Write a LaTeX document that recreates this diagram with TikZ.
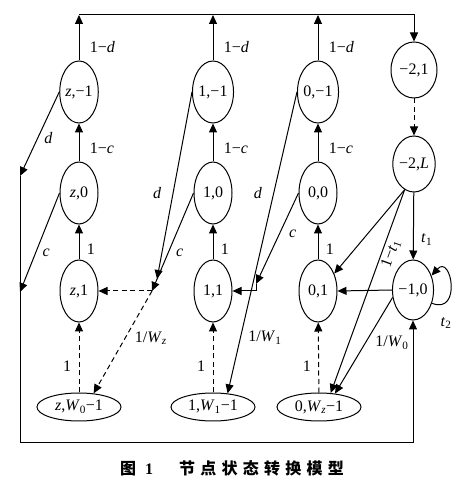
\documentclass[tikz,border=0pt]{standalone}
\usepackage{fontspec}
\setmainfont{Liberation Serif}
\newfontfamily\cjk{Noto Sans CJK SC}
\usetikzlibrary{arrows.meta,shapes.geometric}
\tikzset{>={Triangle[length=9pt,width=8pt]}}
\tikzset{%
    stat/.style={ellipse,draw,inner sep=0pt,%
        minimum width=38pt,minimum height=62pt%
    },%
    wstat/.style={stat,minimum width=84pt,minimum height=28pt},%
    dsh/.style={dash pattern=on 5pt off 3.5pt}%
}
\newcommand{\Wsub}[1]{\textit{W}\textsubscript{#1}}

\begin{document}
\begin{tikzpicture}[x=1pt,y=1pt,line width=1pt,font=\fontsize{16}{18}\selectfont]
    \useasboundingbox (0,0) rectangle (458,485);
    % states
    \node[stat] (zm) at (79,393) {\textit{z},−1};
    \node[stat] (z0) at (79,292) {\textit{z},0};
    \node[stat] (z1) at (79,194) {\textit{z},1};
    \node[wstat] (zw) at (79,78) {\textit{z},\Wsub{0}−1};
    \node[stat] (om) at (213,393) {1,−1};
    \node[stat] (o0) at (213,292) {1,0};
    \node[stat] (o1) at (213,194) {1,1};
    \node[wstat] (ow) at (213,78) {1,\Wsub{1}−1};
    \node[stat] (nm) at (318,393) {0,−1};
    \node[stat] (n0) at (318,292) {0,0};
    \node[stat] (n1) at (318,194) {0,1};
    \node[wstat] (nw) at (319,78) {0,\Wsub{\textit{z}}−1};
    \node[stat,minimum width=46pt,minimum height=56pt] (a) at (414,415) {−2,1};
    \node[stat,minimum height=56pt] (b) at (414,321) {−2,\textit{L}};
    \node[stat,minimum height=60pt] (c) at (413,195) {−1,0};
    % frame lines
    \coordinate (tz) at (79,470);
    \coordinate (to) at (213,470);
    \coordinate (tn) at (318,470);
    \coordinate (tr) at (414,470);
    \coordinate (lt) at (20,309);
    \coordinate (lc) at (20,193);
    \coordinate (lb) at (20,42);
    \coordinate (rb) at (413,42);
    \coordinate (j1) at (152,194);
    \coordinate (j1d) at (157,206);
    \coordinate (j2) at (256,201);
    \draw[->] (tz) -- (tr) -- (a);
    \draw[->] (lt) -- (lb) -- (rb) -- (c);
    % column z
    \draw[->] (zm) -- (tz) node[pos=.3,right=7pt] {1−\textit{d}};
    \draw[->] (z0) -- (zm) node[pos=.36,right=7pt] {1−\textit{c}};
    \draw[->] (z1) -- (z0) node[pos=.3,right=4pt] {1};
    \draw[->,dsh] (zw) -- (z1) node[pos=.37,left=4pt] {1};
    \draw[->] (zm.west) -- (lt) node[pos=.55,right=3pt] {\textit{d}};
    \draw[->] (z0.west) -- (lc) node[pos=.6,right=3pt] {\textit{c}};
    % column 1
    \draw[->] (om) -- (to) node[pos=.3,right=7pt] {1−\textit{d}};
    \draw[->] (o0) -- (om) node[pos=.36,right=7pt] {1−\textit{c}};
    \draw[->] (o1) -- (o0) node[pos=.3,right=4pt] {1};
    \draw[->,dsh] (ow) -- (o1) node[pos=.37,left=4pt] {1};
    \draw[->] (om.west) -- (j1d) node[pos=.54,left=8pt] {\textit{d}};
    \draw[->] (o0.west) -- (j1) node[pos=.61,right=4pt] {\textit{c}};
    \draw[->,dsh] (j1) -- (z1.east);
    \draw[->,dsh] (j1) -- (zw.43) node[pos=.46,right=6pt] {1/\Wsub{\textit{z}}};
    % column 0
    \draw[->] (nm) -- (tn) node[pos=.3,right=7pt] {1−\textit{d}};
    \draw[->] (n0) -- (nm) node[pos=.36,right=7pt] {1−\textit{c}};
    \draw[->] (n1) -- (n0) node[pos=.3,right=4pt] {1};
    \draw[->,dsh] (nw) -- (n1) node[pos=.37,left=4pt] {1};
    \draw[->] (nm.west) -- (ow.43)
        node[pos=.334,left=8pt] {\textit{d}}
        node[pos=.815,right=4pt] {1/\Wsub{1}};
    \draw[->] (n0.west) -- (j2) node[pos=.45,right=6pt] {\textit{c}};
    \draw[->] (j2) |- (o1.east);
    % column -2/-1
    \draw[->,dsh] (a) -- (b);
    \draw[->] (b) -- (c) node[pos=.7,right=4pt] {\textit{t}\textsubscript{1}};
    \draw[->] (b.250) -- (n1.47);
    \draw[->] (b.250) -- (nw.50) node[pos=.3,sloped,below=1pt,inner sep=1pt] {1−\textit{t}\textsubscript{1}};
    \draw[->] (c.200) -- (nw.40) node[pos=.47,right=6pt] {1/\Wsub{0}};
    \draw[->] (c.west) -- (n1.east);
    \draw[->] (c.-35) .. controls +(30,-12) and +(20,22) .. (c.38);
    \node (lt2) at (446,162) {\textit{t}\textsubscript{2}};
    % caption
    \node (cap) at (232,17) {{\cjk\bfseries 图}\hspace{9pt}\textbf{1}\hspace{26pt}%
        {\cjk\bfseries\addfontfeature{LetterSpace=33}节点状态转换模型}};
\end{tikzpicture}
\end{document}
